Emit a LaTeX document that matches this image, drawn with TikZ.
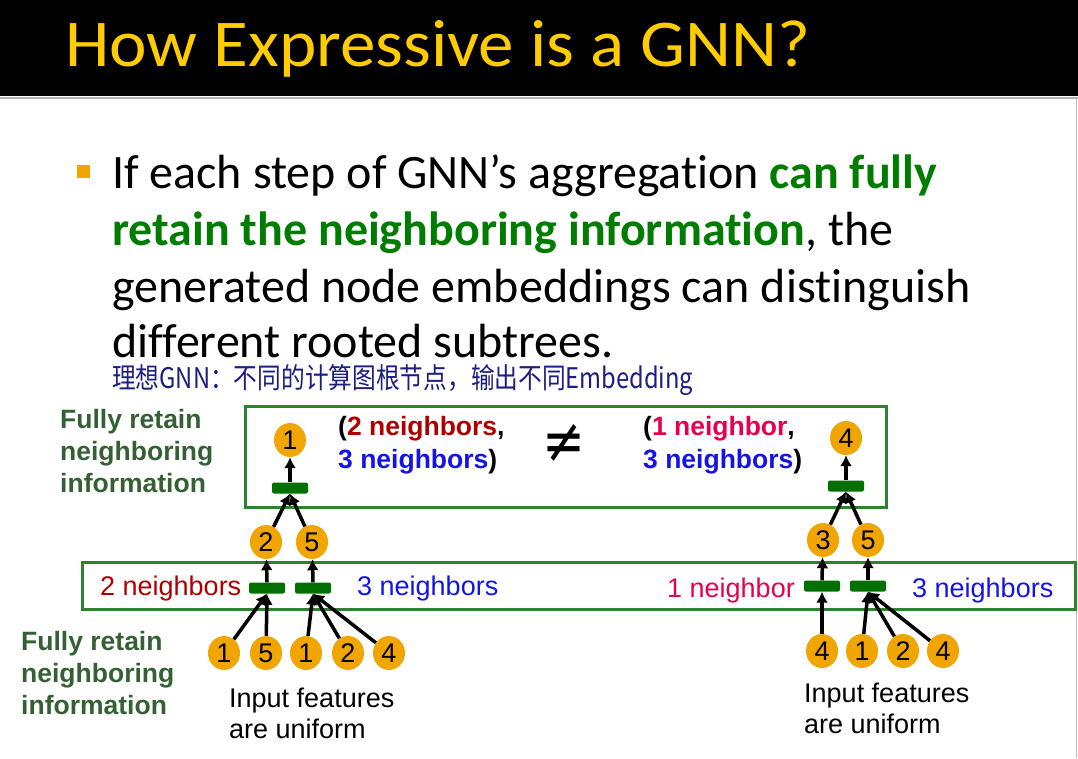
\documentclass[tikz,border=0pt]{standalone}
\usepackage{fontspec}
\setmainfont{Liberation Sans}
\newfontfamily\calibri[Ligatures=NoCommon]{Carlito}
\newfontfamily\cjk{Noto Sans CJK SC}
\newfontfamily\dejavu{DejaVu Sans}
\usetikzlibrary{arrows.meta,shapes.geometric}
\definecolor{titleY}{RGB}{255,204,0}
\definecolor{bulletO}{RGB}{240,165,0}
\definecolor{txtG}{RGB}{0,125,0}
\definecolor{handB}{RGB}{30,30,130}
\definecolor{orangeN}{RGB}{240,165,0}
\definecolor{barG}{RGB}{0,112,0}
\definecolor{boxG}{RGB}{45,130,45}
\definecolor{labG}{RGB}{52,96,52}
\definecolor{dRed}{RGB}{175,0,0}
\definecolor{crim}{RGB}{230,0,80}
\definecolor{nBlue}{RGB}{20,20,230}
\begin{document}
\begin{tikzpicture}[x=1pt,y=-1pt,
  num/.style={ellipse, fill=orangeN, minimum width=32pt, minimum height=34pt, inner sep=0pt, font=\fontsize{27}{27}\selectfont},
  agg/.style={fill=barG, rounded corners=2pt, minimum width=36pt, minimum height=11pt, inner sep=0pt},
  gbox/.style={draw=boxG, line width=3pt},
  arr/.style={line width=3.5pt, -{Latex[length=11pt,width=12pt]}},
  lbl/.style={font=\fontsize{26.5}{32}\selectfont\bfseries, text=labG, anchor=base west, inner sep=0pt},
  pair/.style={font=\fontsize{26.5}{32}\selectfont\bfseries, anchor=base west, inner sep=0pt},
  cnt/.style={font=\fontsize{27}{32}\selectfont, anchor=base west, inner sep=0pt},
  inp/.style={font=\fontsize{27}{32}\selectfont, anchor=base west, inner sep=0pt},
  bul/.style={font=\calibri\fontsize{48}{57}\selectfont, anchor=base west, inner sep=0pt}
]
\useasboundingbox (0,0) rectangle (1078,758);
\fill[white] (0,0) rectangle (1078,758);
% header
\fill[black] (0,0) rectangle (1078,96);
\draw[gray!60, line width=2pt] (0,98) -- (1078,98);
\draw[gray!50, line width=1pt] (1076.5,99) -- (1076.5,758);
\node[anchor=base west, inner sep=0pt, text=titleY] (title) at (65,66)
  {\resizebox{745pt}{46pt}{\calibri How Expressive is a GNN?}};
% bullet
\fill[bulletO] (77,165) rectangle (90,178);
\node[bul] (l1) at (112,188) {If each step of GNN’s aggregation \textbf{\color{txtG}can fully}};
\node[bul] (l2) at (112,245) {\textbf{\color{txtG}retain the neighboring information}, the};
\node[bul] (l3) at (112,302) {generated node embeddings can distinguish};
\node[bul] (l4) at (112,357) {different rooted subtrees.};
\node[anchor=base west, inner sep=0pt, text=handB] (hand) at (112,388)
  {\resizebox{581pt}{24pt}{\cjk 理想GNN：不同的计算图根节点，输出不同Embedding}};
% green boxes
\draw[gbox] (245,406) rectangle (886,507);
\draw[gbox] (82,562) rectangle (1075,609);
% labels
\node[lbl] (fa1) at (60,428) {Fully retain};
\node[lbl] (fa2) at (60,460) {neighboring};
\node[lbl] (fa3) at (60,492) {information};
\node[lbl] (fb1) at (21,650) {Fully retain};
\node[lbl] (fb2) at (21,682) {neighboring};
\node[lbl] (fb3) at (21,714) {information};
\node[pair] (pa1) at (338,435) {(\textcolor{dRed}{2 neighbors},};
\node[pair] (pa2) at (338,468) {\textcolor{nBlue}{3 neighbors})};
\node[pair] (pb1) at (643,435) {(\textcolor{crim}{1 neighbor},};
\node[pair] (pb2) at (643,468) {\textcolor{nBlue}{3 neighbors})};
\node[inner sep=0pt] (neq) at (564,443) {\resizebox*{43pt}{38pt}{\dejavu ≠}};
\node[cnt, text=dRed] (c1) at (100,595) {2 neighbors};
\node[cnt, text=nBlue] (c2) at (357,595) {3 neighbors};
\node[cnt, text=crim] (c3) at (667,597) {1 neighbor};
\node[cnt, text=nBlue] (c4) at (912,597) {3 neighbors};
\node[inp] (i1) at (229,707) {Input features};
\node[inp] (i2) at (229,738) {are uniform};
\node[inp] (i3) at (804,702) {Input features};
\node[inp] (i4) at (804,733) {are uniform};
% left tree
\node[num] (R1) at (290,440) {1};
\node[agg] (T1) at (290,488) {};
\node[num] (M2) at (266,542) {2};
\node[num] (M5) at (312,542) {5};
\node[agg] (bA) at (267,588) {};
\node[agg] (bB) at (313,588) {};
\node[num] (La) at (224,653) {1};
\node[num] (Lb) at (266,653) {5};
\node[num] (Lc) at (306,653) {1};
\node[num] (Ld) at (348,653) {2};
\node[num] (Le) at (389,653) {4};
\draw[arr] (T1.north) -- (R1);
\draw[arr] (M2) -- (T1.south);
\draw[arr] (M5) -- (T1.south);
\draw[arr] (bA.north) -- (M2);
\draw[arr] (bB.north) -- (M5);
\draw[arr] (La) -- (bA.south);
\draw[arr] (Lb) -- (bA.south);
\draw[arr] (Lc) -- (bB.south);
\draw[arr] (Ld) -- (bB.south);
\draw[arr] (Le) -- (bB.south);
% right tree
\node[num] (R4) at (846,438) {4};
\node[agg] (T2) at (846,486) {};
\node[num] (N3) at (823,540) {3};
\node[num] (N5) at (868,540) {5};
\node[agg] (bC) at (822,586) {};
\node[agg] (bD) at (868,586) {};
\node[num] (Ra) at (822,651) {4};
\node[num] (Rb) at (862,651) {1};
\node[num] (Rc) at (903,651) {2};
\node[num] (Rd) at (943,651) {4};
\draw[arr] (T2.north) -- (R4);
\draw[arr] (N3) -- (T2.south);
\draw[arr] (N5) -- (T2.south);
\draw[arr] (bC.north) -- (N3);
\draw[arr] (bD.north) -- (N5);
\draw[arr] (Ra) -- (bC.south);
\draw[arr] (Rb) -- (bD.south);
\draw[arr] (Rc) -- (bD.south);
\draw[arr] (Rd) -- (bD.south);
\end{tikzpicture}
\end{document}
